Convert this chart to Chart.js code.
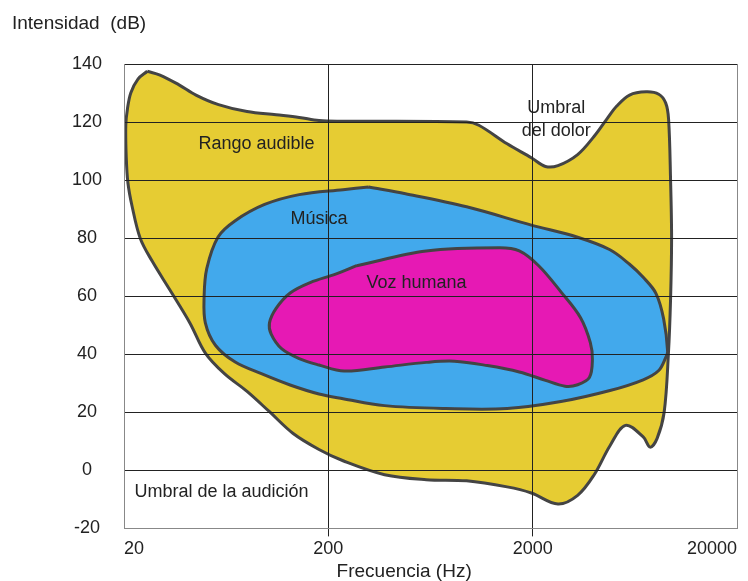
<!DOCTYPE html>
<html lang="es">
<head>
<meta charset="utf-8">
<script src="https://cdn.jsdelivr.net/npm/chart.js@4.4.0/dist/chart.umd.min.js"></script>
<style>
  html, body { margin: 0; padding: 0; background: #fff; }
  #wrap { width: 748px; height: 581px; }
</style>
</head>
<body>
<div id="wrap"><canvas id="chart"></canvas></div>
<script>
// ejes
const freqTicks = [20, 200, 2000, 20000];
const dbMin = -20, dbMax = 140, dbStep = 20;

// Rango audible (contorno exterior, Hz / dB)
const rangoFreq = [26, 30, 37, 45, 58, 80, 111, 144, 180, 236, 950, 1090, 1500, 1970, 2310, 2660, 3320, 4000, 4620, 5160, 5960, 7180, 8280, 8950, 9250, 9460, 9570, 9460, 9230, 8800, 8130, 7520, 6950, 5690, 4780, 4000, 3320, 2660, 1970, 1500, 950, 603, 377, 236, 180, 134, 103, 80, 62, 50, 42, 33.5, 27.5, 24, 21.9, 20.9, 20.5, 20.4, 20.8, 21.6, 23.4, 26];
const rangoDb   = [137.5, 136.2, 132.9, 129.3, 126, 123.6, 122.5, 121.6, 120.5, 120.3, 120, 118.9, 112.5, 107.7, 104.7, 105, 108.8, 115.1, 121.1, 125.5, 129.3, 130.4, 129.6, 126.6, 121, 100, 80, 59, 40, 20, 11, 8, 11.5, 15.5, 8.5, -1.5, -8.6, -11.6, -7.8, -5.7, -3.6, -3.2, -1.5, 3.3, 7.2, 12.8, 20.2, 27.2, 33.3, 40.4, 50.8, 62.2, 72, 80, 91, 99, 108, 118.9, 124.7, 130.1, 134.8, 137.5];

// Música
const musicaFreq = [315, 477, 950, 1970, 3320, 4780, 5960, 6950, 8020, 8750, 9150, 8950, 8280, 6950, 4780, 2750, 1500, 752, 377, 236, 180, 130, 94, 70, 56, 50, 49.3, 50.8, 57.7, 70, 97.5, 144, 236, 315];
const musicaDb   = [97.6, 95.3, 90.8, 84.5, 80.3, 76, 71, 66.5, 61, 52.2, 41, 38.8, 34.4, 31.2, 27.5, 23.7, 21.3, 21.3, 22.3, 24.7, 26.3, 29.4, 33.3, 37.3, 43.1, 50.8, 59.6, 69.5, 80.4, 86, 91.6, 95, 96.7, 97.6];

// Voz humana
const vozFreq = [275, 603, 1380, 1720, 2140, 2750, 3430, 3830, 3920, 3790, 3320, 2880, 2310, 1720, 1200, 828, 603, 377, 239, 180, 144, 118, 105, 103, 111, 130, 163, 217, 275];
const vozDb   = [70.5, 75.6, 76.7, 75.6, 70.5, 61.5, 52.6, 44, 38.2, 32, 29.5, 29, 31, 33.9, 36.1, 37.6, 37.2, 35.6, 34.2, 36.3, 38.5, 41.9, 46.9, 50.8, 55.8, 61.1, 64.7, 67.6, 70.5];

// rótulos dentro del gráfico
const noteTexts = ['Rango audible', 'Música', 'Voz humana', 'Umbral\ndel dolor', 'Umbral de la audición'];
const noteFreq  = [89, 180, 540, 2610, 60];
const noteDb    = [112.5, 86.5, 64.7, 121, -7.4];

const FONT = '"Liberation Sans", Arial, sans-serif';

function toPoints(xs, ys) {
  return xs.map((v, i) => ({ x: v, y: ys[i] }));
}

const textLabels = {
  id: 'textLabels',
  afterDraw(chart) {
    const { ctx, chartArea } = chart;
    const x = chart.scales.x, y = chart.scales.y;
    ctx.save();
    ctx.fillStyle = '#222';
    ctx.textAlign = 'center';
    ctx.textBaseline = 'middle';
    ctx.font = '18px ' + FONT;
    noteTexts.forEach((t, i) => {
      const lines = t.split('\n');
      const px = x.getPixelForValue(noteFreq[i]);
      const py = y.getPixelForValue(noteDb[i]);
      lines.forEach((line, k) => {
        ctx.fillText(line, px, py + (k - (lines.length - 1) / 2) * 23);
      });
    });
    // títulos de los ejes
    ctx.font = '19px ' + FONT;
    ctx.textAlign = 'left';
    ctx.fillText('Intensidad  (dB)', 12, 24);
    ctx.textAlign = 'center';
    ctx.fillText('Frecuencia (Hz)', x.getPixelForValue(470), chartArea.bottom + 43);
    ctx.restore();
  }
};

const outline = '#444';

new Chart(document.getElementById('chart'), {
  type: 'scatter',
  data: {
    datasets: [
      {
        label: 'Rango audible',
        data: toPoints(rangoFreq, rangoDb),
        backgroundColor: '#E6CC33',
        borderColor: outline,
        order: 3
      },
      {
        label: 'Música',
        data: toPoints(musicaFreq, musicaDb),
        backgroundColor: '#42A9EC',
        borderColor: outline,
        order: 2
      },
      {
        label: 'Voz humana',
        data: toPoints(vozFreq, vozDb),
        backgroundColor: '#E619B4',
        borderColor: outline,
        order: 1
      }
    ]
  },
  options: {
    responsive: true,
    maintainAspectRatio: false,
    animation: false,
    layout: { padding: { left: 50, top: 64, right: 11, bottom: 19 } },
    datasets: {
      scatter: {
        showLine: true,
        fill: 'shape',
        tension: 0.35,
        borderWidth: 3,
        pointRadius: 0,
        pointHoverRadius: 0
      }
    },
    plugins: {
      legend: { display: false },
      tooltip: { enabled: false }
    },
    scales: {
      x: {
        type: 'logarithmic',
        min: 20,
        max: 20000,
        afterBuildTicks: (scale) => { scale.ticks = freqTicks.map(v => ({ value: v })); },
        grid: {
          z: 1,
          lineWidth: 1,
          tickLength: 8,
          color: (c) => (c.tick && c.tick.value === 20000) ? '#888' : '#222',
          tickColor: (c) => (c.tick && (c.tick.value === 200 || c.tick.value === 2000)) ? '#222' : 'rgba(0,0,0,0)'
        },
        border: { color: '#888', width: 1, z: 2 },
        ticks: {
          align: 'inner',
          padding: 2,
          color: '#222',
          font: { family: FONT, size: 18 },
          callback: (v) => String(v)
        }
      },
      y: {
        type: 'linear',
        min: dbMin,
        max: dbMax,
        grid: {
          z: 1,
          lineWidth: 1,
          drawTicks: false,
          color: '#222'
        },
        border: { color: '#888', width: 1, z: 2 },
        ticks: {
          stepSize: dbStep,
          padding: 22,
          crossAlign: 'center',
          color: '#222',
          font: { family: FONT, size: 18 }
        }
      }
    }
  },
  plugins: [textLabels]
});
</script>
</body>
</html>
